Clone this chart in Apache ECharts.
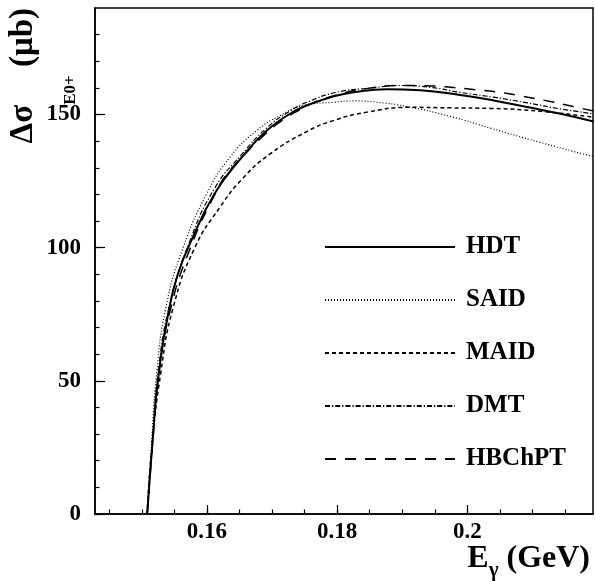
<!DOCTYPE html>
<html><head><meta charset="utf-8">
<script src="https://cdn.jsdelivr.net/npm/echarts@6/dist/echarts.min.js"></script>
<style>html,body{margin:0;padding:0;background:#fff}#c{width:595px;height:581px}</style>
</head><body><div id="c"></div>
<script>
// ---- data ----
const hdtX = [0.15082,0.15165,0.15251,0.15431,0.15559,0.15738,0.16123,0.16534,0.16919,0.17277,0.17554,0.17938,0.18251,0.18765,0.19277,0.19892,0.20405,0.20918,0.21431,0.21938];
const hdtY = [0,27.4,51,78.5,90.5,101.5,120.5,133.9,144.0,150.3,153.6,156.8,158.4,159.5,159.1,157.3,155.3,152.8,150.3,147.4];

const saidX = [0.15082,0.15150,0.15226,0.15369,0.15635,0.15995,0.16354,0.16765,0.17123,0.17482,0.17938,0.18277,0.18611,0.19072,0.19738,0.20354,0.21123,0.21938];
const saidY = [0,27,52.6,77.6,100.1,120.2,134.0,144.0,149.6,153.4,154.6,155.1,154.6,153.0,149.3,144.9,139.5,134.2];

const maidX = [0.15082,0.15150,0.15288,0.15482,0.15815,0.16200,0.16534,0.16969,0.17534,0.17938,0.18457,0.19123,0.19738,0.20354,0.21123,0.21938];
const maidY = [0,24,52.6,77.6,100.1,115.2,125.6,135.2,143.6,147.7,150.9,152.7,152.5,152.3,151.2,149.0];

const dmtX = [0.15082,0.15165,0.15251,0.15431,0.15738,0.16123,0.16534,0.16919,0.17277,0.17554,0.18000,0.18508,0.18969,0.19431,0.19892,0.20405,0.20918,0.21431,0.21938];
const dmtY = [0,28,53.5,79,102.5,122.5,135,145,151.3,154.8,158.4,159.9,160.9,160.2,158.3,156.5,154.4,152.1,150.3];

const hbX = [0.15082,0.15165,0.15251,0.15431,0.15738,0.16149,0.16328,0.16585,0.16842,0.17149,0.17457,0.17790,0.18611,0.18969,0.19354,0.19712,0.20097,0.20482,0.20866,0.21250,0.21610,0.21938];
const hbY = [0,26.5,51,76,99.5,121.4,128.3,135.2,141.5,147.7,152.1,155.9,160.3,160.9,160.8,160.3,159.4,158.4,156.8,155.0,153.1,151.3];

const seriesNames = ['HDT','SAID','MAID','DMT','HBChPT'];
const xMajorTicks = [0.16,0.18,0.2];
const xMinorTicks = [0.145,0.15,0.155,0.16,0.165,0.17,0.175,0.18,0.185,0.19,0.195,0.2,0.205,0.21,0.215];
const yMajorTicks = [0,50,100,150];
const yMinorTicks = [0,10,20,30,40,50,60,70,80,90,100,110,120,130,140,150,160,170,180];
const xMin = 0.1428, xMax = 0.2193, yMin = 0, yMax = 190;
const xTitle = '{a|E}{s|γ}{a| (GeV)}';
const yTitle = '{a|Δσ}{s|E0+}{a| (μb)}';

// ---- build chart ----
const pairs = (xs, ys) => xs.map((x, i) => [x, ys[i]]);
const allData = [pairs(hdtX,hdtY), pairs(saidX,saidY), pairs(maidX,maidY), pairs(dmtX,dmtY), pairs(hbX,hbY)];
const styles = [
  {type:'solid', width:2},
  {type:[1,2], width:1.2},
  {type:[4,3], width:1.5},
  {type:[5,2,1.2,2], width:1.2},
  {type:[11,9], width:1.5}
];
const FONT = '"Liberation Serif","DejaVu Serif",serif';

const chart = echarts.init(document.getElementById('c'), null, {renderer:'canvas'});
chart.setOption({
  animation: false,
  backgroundColor: '#fff',
  grid: {left:95, right:2, top:8, bottom:67, containLabel:false, outerBoundsMode:'none',
         show:true, borderColor:'#000', borderWidth:1.5, backgroundColor:'transparent'},
  legend: {
    orient:'vertical', left:319, top:227, itemWidth:130, itemHeight:30, itemGap:23,
    data: seriesNames,
    itemStyle:{color:'rgba(0,0,0,0)', borderColor:'rgba(0,0,0,0)', borderWidth:0},
    textStyle: {fontFamily:FONT, fontWeight:'bold', fontSize:25, lineHeight:30, color:'#000', padding:[0,0,0,6]},
    selectedMode:false
  },
  graphic: [
    {type:'text', x:7, y:8, rotation:Math.PI/2, silent:true,
     style:{text:yTitle, align:'right', verticalAlign:'top',
       rich:{a:{fontFamily:FONT, fontWeight:'bold', fontSize:33, fill:'#000', lineHeight:72, verticalAlign:'top'},
             s:{fontFamily:FONT, fontWeight:'bold', fontSize:17, fill:'#000', lineHeight:20, verticalAlign:'bottom'}}}},
    {type:'text', x:590, y:543, silent:true,
     style:{text:xTitle, align:'right', verticalAlign:'top',
       rich:{a:{fontFamily:FONT, fontWeight:'bold', fontSize:32, fill:'#000', lineHeight:38, verticalAlign:'top'},
             s:{fontFamily:FONT, fontWeight:'bold', fontSize:21, fill:'#000', lineHeight:22, verticalAlign:'bottom'}}}}
  ],
  xAxis: [{
    type:'value', min:xMin, max:xMax,
    axisLine:{show:true, onZero:false, lineStyle:{color:'#000', width:1.5}},
    axisTick:{show:true, inside:true, length:9, customValues:xMajorTicks, lineStyle:{color:'#000', width:1.2}},
    axisLabel:{customValues:xMajorTicks, margin:7, fontFamily:FONT, fontWeight:'bold', fontSize:23, color:'#000'},
    splitLine:{show:false}
  },{
    type:'value', min:xMin, max:xMax, position:'bottom', offset:0,
    axisLine:{show:false},
    axisTick:{show:true, inside:true, length:4.5, customValues:xMinorTicks, lineStyle:{color:'#000', width:1.2}},
    axisLabel:{show:false}, splitLine:{show:false}
  }],
  yAxis: [{
    type:'value', min:yMin, max:yMax,
    axisLine:{show:true, onZero:false, lineStyle:{color:'#000', width:1.5}},
    axisTick:{show:true, inside:true, length:10, customValues:yMajorTicks, lineStyle:{color:'#000', width:1.2}},
    axisLabel:{customValues:yMajorTicks, margin:14, fontFamily:FONT, fontWeight:'bold', fontSize:23, color:'#000'},
    splitLine:{show:false}
  },{
    type:'value', min:yMin, max:yMax, position:'left', offset:0,
    axisLine:{show:false},
    axisTick:{show:true, inside:true, length:4.5, customValues:yMinorTicks, lineStyle:{color:'#000', width:1.2}},
    axisLabel:{show:false}, splitLine:{show:false}
  }],
  series: seriesNames.map((n, i) => ({
    name:n, type:'line', xAxisIndex:0, yAxisIndex:0,
    data: allData[i], showSymbol:false, symbol:'none',
    smooth:0.5, clip:true,
    lineStyle:{color:'#000', width:styles[i].width, type:styles[i].type},
    itemStyle:{color:'#000'}
  }))
});
</script></body></html>
